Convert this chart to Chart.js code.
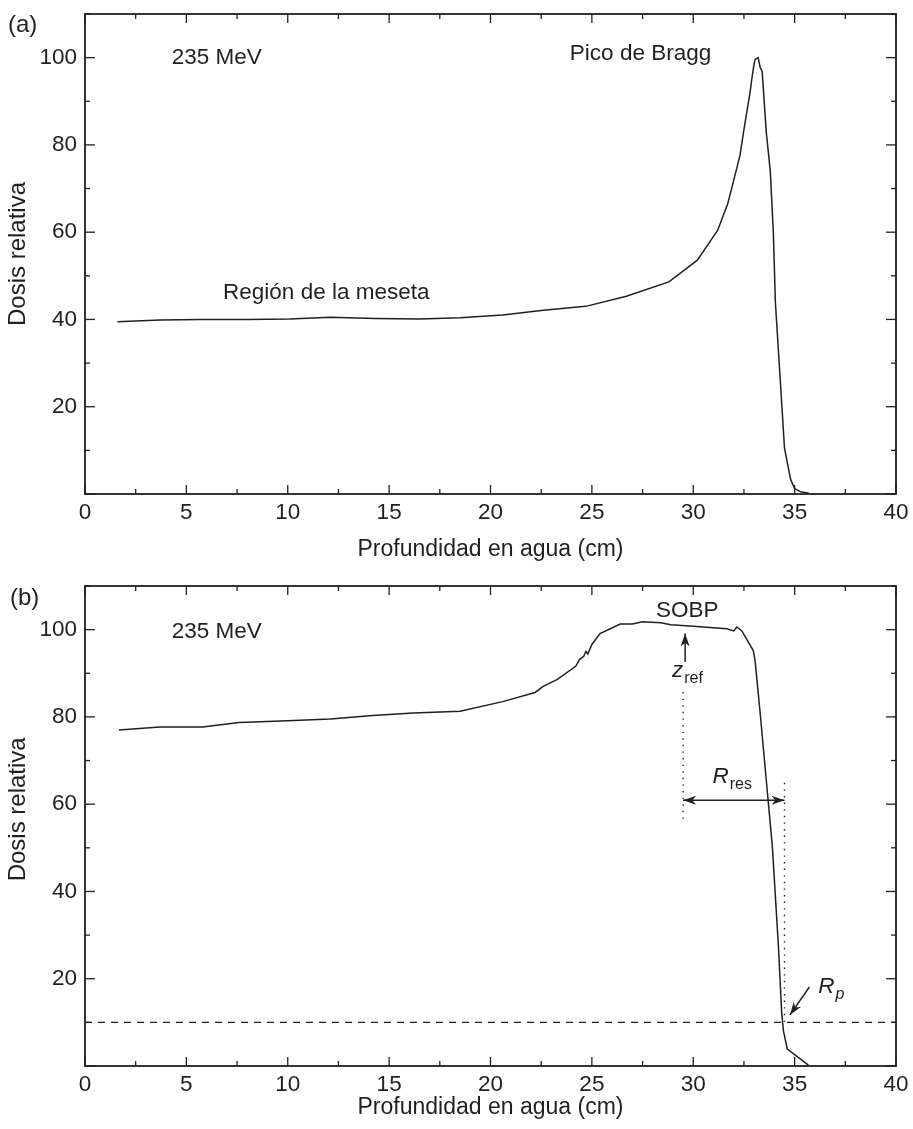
<!DOCTYPE html>
<html>
<head>
<meta charset="utf-8">
<script src="https://cdn.jsdelivr.net/npm/chart.js@4.4.1/dist/chart.umd.min.js"></script>
<style>
  html, body { margin: 0; padding: 0; background: #fff; }
  canvas { display: block; }
</style>
</head>
<body>
<canvas id="chartA" width="913" height="565"></canvas>
<canvas id="chartB" width="913" height="564"></canvas>
<script>
const FONT = '"Liberation Sans", Arial, Helvetica, sans-serif';
const INK = '#231f20';
const FS = 22.5;

// tick labels
const xTicks = [0, 5, 10, 15, 20, 25, 30, 35, 40];
const yTicks = [20, 40, 60, 80, 100];

// (a) pristine Bragg curve, 235 MeV
const braggDepth = [1.6, 3.7, 5.7, 8.0, 10.1, 12.1, 14.3, 16.5, 18.5, 20.6, 22.6, 24.7, 26.7, 28.8,
  30.2, 31.2, 31.7, 32.3, 32.5, 32.8, 32.9, 33.0, 33.05, 33.2, 33.3, 33.4, 33.6, 33.8, 33.95,
  34.05, 34.3, 34.5, 34.8, 35.0, 35.3, 35.7];
const braggDose = [39.5, 39.9, 40.0, 40.0, 40.1, 40.5, 40.2, 40.1, 40.4, 41.0, 42.1, 43.0, 45.3, 48.6,
  53.6, 60.4, 66.5, 77.5, 83.5, 92.0, 95.5, 98.5, 99.6, 100.0, 97.8, 96.8, 83.0, 74.0, 60.0,
  44.0, 25.5, 10.5, 3.4, 1.2, 0.5, 0.2];

// (b) spread-out Bragg peak, 235 MeV
const sobpDepth = [1.67, 3.7, 5.8, 7.6, 10.0, 12.1, 14.2, 16.2, 18.5, 20.6, 22.2, 22.6, 23.3, 24.2,
  24.4, 24.6, 24.7, 24.8, 25.0, 25.4, 26.4, 27.0, 27.5, 28.4, 28.9, 30.0, 31.65, 32.0, 32.15,
  32.4, 32.96, 33.05, 33.3, 33.6, 33.9, 34.2, 34.36, 34.45, 34.64, 35.68];
const sobpDose = [77.0, 77.7, 77.7, 78.7, 79.1, 79.5, 80.3, 80.9, 81.3, 83.5, 85.6, 87.0, 88.6, 91.6,
  93.2, 93.9, 95.0, 94.4, 96.6, 99.1, 101.3, 101.3, 101.8, 101.6, 101.1, 100.8, 100.2, 99.7, 100.6,
  99.7, 95.2, 92.9, 80.9, 65.6, 50.4, 27.5, 12.3, 8.0, 3.9, 0.2];

// 10 % level used for R_p
const rpDepth = [0, 40];
const rpDose = [10, 10];

const toXY = (xs, ys) => xs.map((v, i) => ({ x: v, y: ys[i] }));

function arrowHead(ctx, x1, y1, x2, y2) {
  const ang = Math.atan2(y2 - y1, x2 - x1);
  const L = 13, W = 4.5;
  const c = Math.cos(ang), s = Math.sin(ang);
  ctx.beginPath();
  ctx.moveTo(x2, y2);
  ctx.lineTo(x2 - L * c + W * s, y2 - L * s - W * c);
  ctx.lineTo(x2 - L * 0.7 * c, y2 - L * 0.7 * s);
  ctx.lineTo(x2 - L * c - W * s, y2 - L * s + W * c);
  ctx.closePath();
  ctx.fill();
}

const frameTicks = {
  id: 'frameTicks',
  afterDatasetsDraw(chart) {
    const { ctx, chartArea: a, scales: { x, y } } = chart;
    const seg = (x1, y1, x2, y2) => { ctx.beginPath(); ctx.moveTo(x1, y1); ctx.lineTo(x2, y2); ctx.stroke(); };
    ctx.save();
    ctx.strokeStyle = INK;
    ctx.lineWidth = 1.3;
    for (let v = x.min; v <= x.max; v += 2.5) {
      const p = x.getPixelForValue(v);
      const len = v % 5 === 0 ? 9 : 5;
      seg(p, a.bottom, p, a.bottom - len);
      seg(p, a.top, p, a.top + len);
    }
    for (let v = y.min; v <= y.max; v += 10) {
      const p = y.getPixelForValue(v);
      const len = v % 20 === 0 ? 10 : 5;
      seg(a.left, p, a.left + len, p);
      seg(a.right, p, a.right - len, p);
    }
    ctx.lineWidth = 1.8;
    ctx.strokeRect(a.left, a.top, a.right - a.left, a.bottom - a.top);
    ctx.restore();
  }
};

const notesPlugin = {
  id: 'notes',
  afterDatasetsDraw(chart, args, opts) {
    const { ctx, scales: { x, y } } = chart;
    const px = v => x.getPixelForValue(v);
    const py = v => y.getPixelForValue(v);
    ctx.save();
    ctx.fillStyle = INK;
    ctx.strokeStyle = INK;

    (opts.dotted || []).forEach(d => {
      ctx.setLineDash([1.4, 5.2]);
      ctx.lineWidth = 1.4;
      ctx.beginPath();
      ctx.moveTo(px(d.x), py(d.y1));
      ctx.lineTo(px(d.x), py(d.y2));
      ctx.stroke();
    });
    ctx.setLineDash([]);

    (opts.arrows || []).forEach(a => {
      const x1 = px(a.x1), y1 = py(a.y1), x2 = px(a.x2), y2 = py(a.y2);
      ctx.lineWidth = 1.5;
      ctx.beginPath(); ctx.moveTo(x1, y1); ctx.lineTo(x2, y2); ctx.stroke();
      arrowHead(ctx, x1, y1, x2, y2);
      if (a.both) arrowHead(ctx, x2, y2, x1, y1);
    });

    (opts.labels || []).forEach(l => {
      if (l.sub) {
        ctx.textAlign = 'left';
        ctx.textBaseline = 'alphabetic';
        ctx.font = `italic ${FS}px ${FONT}`;
        const x0 = px(l.x), y0 = py(l.y);
        ctx.fillText(l.text, x0, y0);
        const w = ctx.measureText(l.text).width;
        ctx.font = `${l.subItalic ? 'italic ' : ''}16px ${FONT}`;
        ctx.fillText(l.sub, x0 + w + 1, y0 + 6);
      } else {
        ctx.textAlign = 'center';
        ctx.textBaseline = 'middle';
        ctx.font = `${FS}px ${FONT}`;
        ctx.fillText(l.text, px(l.x), py(l.y));
      }
    });

    if (opts.panel) {
      ctx.textAlign = 'left';
      ctx.textBaseline = 'middle';
      ctx.font = `24px ${FONT}`;
      ctx.fillText(opts.panel, opts.panelX, opts.panelY);
    }
    ctx.restore();
  }
};

function makeChart(canvasId, datasets, notes, box) {
  const ctx = document.getElementById(canvasId);
  const font = { family: FONT, size: FS };
  return new Chart(ctx, {
    type: 'line',
    data: { datasets },
    options: {
      responsive: false,
      animation: false,
      devicePixelRatio: 1,
      parsing: false,
      layout: { padding: { top: box.top, right: 17, left: 0, bottom: 0 } },
      elements: { point: { radius: 0 }, line: { tension: 0 } },
      plugins: {
        legend: { display: false },
        tooltip: { enabled: false },
        notes
      },
      scales: {
        x: {
          type: 'linear', min: 0, max: 40,
          afterBuildTicks: s => { s.ticks = xTicks.map(v => ({ value: v })); },
          afterFit: s => { s.height = box.axisH; s.paddingLeft = 0; s.paddingRight = 0; },
          grid: { display: false, drawTicks: false },
          border: { display: false },
          ticks: { color: INK, font, padding: 5, maxRotation: 0, autoSkip: false },
          title: { display: true, text: 'Profundidad en agua (cm)', color: INK,
                   font: { family: FONT, size: 23 },
                   padding: { top: 0, bottom: box.titlePad } }
        },
        y: {
          type: 'linear', min: 0, max: 110,
          afterBuildTicks: s => { s.ticks = yTicks.map(v => ({ value: v })); },
          afterFit: s => { s.width = 85; s.paddingTop = 0; s.paddingBottom = 0; },
          grid: { display: false, drawTicks: false },
          border: { display: false },
          ticks: { color: INK, font, padding: 8 },
          title: { display: true, text: box.yTitle, color: INK,
                   font: { family: FONT, size: 24 },
                   padding: { top: 4, bottom: 0 } }
        }
      }
    },
    plugins: [frameTicks, notesPlugin]
  });
}

const lineStyle = { borderColor: INK, borderWidth: 1.5, fill: false, pointRadius: 0 };

makeChart('chartA',
  [{ ...lineStyle, data: toXY(braggDepth, braggDose) }],
  {
    panel: '(a)', panelX: 8, panelY: 25,
    labels: [
      { x: 6.5, y: 100, text: '235 MeV' },
      { x: 27.4, y: 100.8, text: 'Pico de Bragg' },
      { x: 11.9, y: 46, text: 'Región de la meseta' }
    ]
  },
  { top: 14, axisH: 71, titlePad: 2, yTitle: 'Dosis relativa' });

makeChart('chartB',
  [
    { ...lineStyle, data: toXY(sobpDepth, sobpDose) },
    { ...lineStyle, borderWidth: 1.3, borderDash: [7, 6], data: toXY(rpDepth, rpDose) }
  ],
  {
    panel: '(b)', panelX: 10, panelY: 33,
    labels: [
      { x: 6.5, y: 99.5, text: '235 MeV' },
      { x: 29.7, y: 104.4, text: 'SOBP' },
      { x: 28.95, y: 89.1, text: 'z', sub: 'ref' },
      { x: 30.95, y: 64.8, text: 'R', sub: 'res' },
      { x: 36.17, y: 16.7, text: 'R', sub: 'p', subItalic: true }
    ],
    dotted: [
      { x: 29.5, y1: 85.7, y2: 55.5 },
      { x: 34.5, y1: 64.9, y2: 10 }
    ],
    arrows: [
      { x1: 29.6, y1: 92.6, x2: 29.6, y2: 99.1 },
      { x1: 29.5, y1: 60.9, x2: 34.5, y2: 60.9, both: true },
      { x1: 35.73, y1: 18.1, x2: 34.77, y2: 11.7 }
    ]
  },
  { top: 21, axisH: 63, titlePad: 8, yTitle: '\u00a0\u00a0\u00a0\u00a0\u00a0Dosis relativa' });
</script>
</body>
</html>
